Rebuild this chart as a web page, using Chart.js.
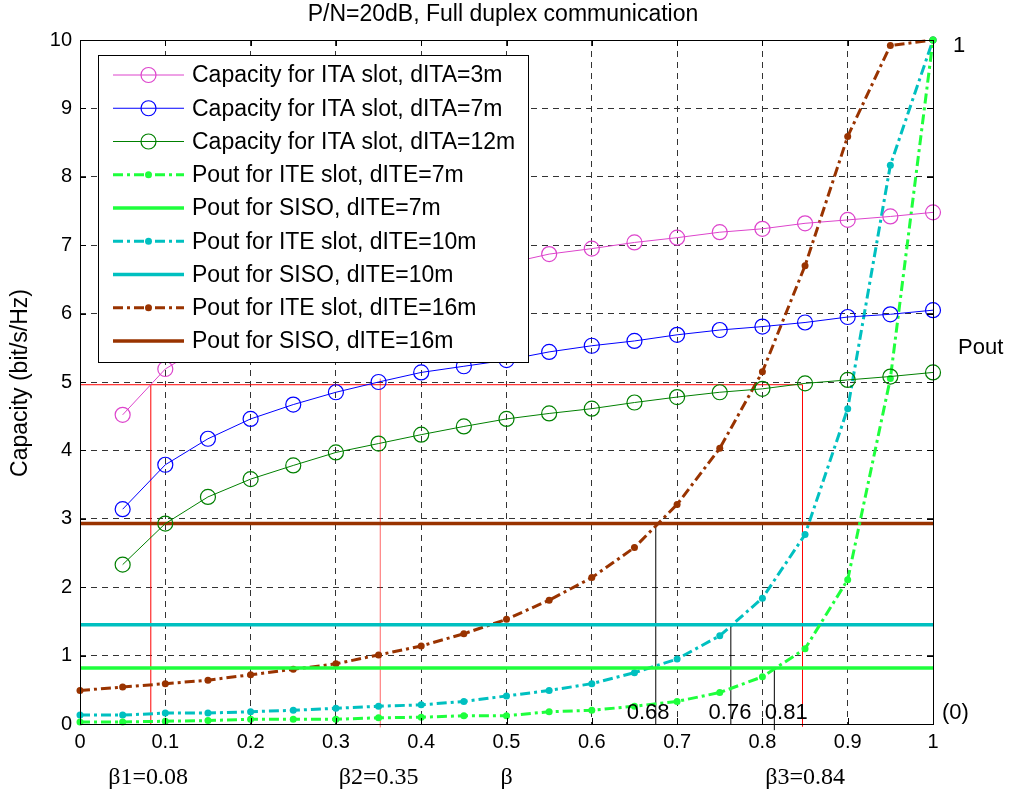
<!DOCTYPE html>
<html>
<head>
<meta charset="utf-8">
<script src="https://cdn.jsdelivr.net/npm/chart.js@4.4.0/dist/chart.umd.min.js"></script>
<style>
  html, body { margin: 0; padding: 0; background: #fff; }
</style>
</head>
<body>
<canvas id="chart" width="1009" height="798"></canvas>
<script>
// beta values
const betaCap = [0.05, 0.1, 0.15, 0.2, 0.25, 0.3, 0.35, 0.4, 0.45, 0.5,
                 0.55, 0.6, 0.65, 0.7, 0.75, 0.8, 0.85, 0.9, 0.95, 1.0];
const betaPout = [0, 0.05, 0.1, 0.15, 0.2, 0.25, 0.3, 0.35, 0.4, 0.45, 0.5,
                  0.55, 0.6, 0.65, 0.7, 0.75, 0.8, 0.85, 0.9, 0.95, 1.0];

// capacity (bit/s/Hz)
const capITA3  = [4.52, 5.19, 5.57, 5.86, 6.07, 6.25, 6.41, 6.54, 6.63, 6.73,
                  6.87, 6.95, 7.04, 7.11, 7.19, 7.24, 7.32, 7.37, 7.42, 7.48];
const capITA7  = [3.14, 3.79, 4.17, 4.46, 4.67, 4.85, 5.00, 5.14, 5.23, 5.32,
                  5.44, 5.53, 5.60, 5.69, 5.76, 5.81, 5.87, 5.95, 5.99, 6.05];
const capITA12 = [2.33, 2.93, 3.32, 3.58, 3.78, 3.97, 4.10, 4.23, 4.35, 4.46,
                  4.54, 4.61, 4.70, 4.78, 4.85, 4.90, 4.98, 5.03, 5.08, 5.14];

// outage probability (scaled, 10 = 1)
const poutITE7  = [0.03, 0.03, 0.04, 0.05, 0.07, 0.07, 0.07, 0.09, 0.10, 0.12, 0.12,
                   0.18, 0.20, 0.26, 0.33, 0.46, 0.69, 1.10, 2.11, 5.05, 10.0];
const poutITE10 = [0.13, 0.13, 0.16, 0.16, 0.18, 0.20, 0.23, 0.26, 0.28, 0.33, 0.41,
                   0.49, 0.59, 0.75, 0.95, 1.29, 1.84, 2.77, 4.61, 8.17, 10.0];
const poutITE16 = [0.49, 0.54, 0.59, 0.64, 0.72, 0.80, 0.88, 1.01, 1.14, 1.32, 1.53,
                   1.81, 2.14, 2.58, 3.21, 4.03, 5.15, 6.70, 8.59, 9.92, 10.0];
const poutSISO7 = 0.82;
const poutSISO10 = 1.45;
const poutSISO16 = 2.93;

// marked points
const betaMarks = [0.083, 0.352, 0.847];
const capMark = 4.96;
const betaCross = [0.675, 0.763, 0.814];

const xTicks = [0, 0.1, 0.2, 0.3, 0.4, 0.5, 0.6, 0.7, 0.8, 0.9, 1];
const yTicks = [0, 1, 2, 3, 4, 5, 6, 7, 8, 9, 10];

const SANS = "'Liberation Sans', Arial, sans-serif";
const SERIF = "'Liberation Serif', 'Times New Roman', serif";

function pts(xs, ys) {
    return xs.map((b, i) => ({ x: b, y: ys[i] }));
}
function flat(v) {
    return [{ x: 0, y: v }, { x: 1, y: v }];
}

function capSet(label, color, ys) {
    return {
        label: label, data: pts(betaCap, ys),
        borderColor: color, borderWidth: 1,
        pointRadius: 7.5, pointBorderColor: color, pointBorderWidth: 1.2,
        pointBackgroundColor: 'rgba(0,0,0,0)', clip: false
    };
}
function iteSet(label, color, ys) {
    return {
        label: label, data: pts(betaPout, ys),
        borderColor: color, borderWidth: 3, borderDash: [10, 4, 3, 4],
        pointRadius: 3.5, pointBorderWidth: 0, pointBackgroundColor: color,
        pointBorderColor: color, clip: false
    };
}
function sisoSet(label, color, v) {
    return {
        label: label, data: flat(v),
        borderColor: color, borderWidth: 3.5, pointRadius: 0
    };
}
function guide(color, data) {
    return { data: data, borderColor: color, borderWidth: 1, pointRadius: 0, clip: false };
}

const datasets = [
    capSet('Capacity for ITA slot, dITA=3m', '#dd44cc', capITA3),
    capSet('Capacity for ITA slot, dITA=7m', '#0000ff', capITA7),
    capSet('Capacity for ITA slot, dITA=12m', '#008000', capITA12),
    iteSet('Pout for ITE slot, dITE=7m', '#1eff3c', poutITE7),
    sisoSet('Pout for SISO, dITE=7m', '#1eff3c', poutSISO7),
    iteSet('Pout for ITE slot, dITE=10m', '#00c0c0', poutITE10),
    sisoSet('Pout for SISO, dITE=10m', '#00c0c0', poutSISO10),
    iteSet('Pout for ITE slot, dITE=16m', '#993300', poutITE16),
    sisoSet('Pout for SISO, dITE=16m', '#993300', poutSISO16),
    guide('#ff0000', [{ x: 0, y: capMark }, { x: betaMarks[2], y: capMark }]),
    guide('#ff0000', [{ x: betaMarks[0], y: 0 }, { x: betaMarks[0], y: capMark }]),
    guide('rgba(255,0,0,0.6)', [{ x: betaMarks[1], y: -0.05 }, { x: betaMarks[1], y: 5.05 }]),
    guide('#ff0000', [{ x: betaMarks[2], y: -0.04 }, { x: betaMarks[2], y: capMark }]),
    guide('#000000', [{ x: betaCross[0], y: 0 }, { x: betaCross[0], y: poutSISO16 }]),
    guide('#000000', [{ x: betaCross[1], y: 0 }, { x: betaCross[1], y: poutSISO10 }]),
    guide('#000000', [{ x: betaCross[2], y: -0.09 }, { x: betaCross[2], y: poutSISO7 }])
];

const decor = {
    id: 'decor',
    afterDraw(chart) {
        const ctx = chart.ctx;
        const a = chart.chartArea;
        const x = chart.scales.x, y = chart.scales.y;
        ctx.save();

        // box and inward ticks
        ctx.strokeStyle = '#000';
        ctx.lineWidth = 1;
        ctx.strokeRect(Math.round(a.left) + 0.5, Math.round(a.top) + 0.5,
                       Math.round(a.right - a.left), Math.round(a.bottom - a.top));
        ctx.beginPath();
        xTicks.forEach(v => {
            const px = Math.round(x.getPixelForValue(v)) + 0.5;
            ctx.moveTo(px, a.bottom); ctx.lineTo(px, a.bottom - 6);
            ctx.moveTo(px, a.top); ctx.lineTo(px, a.top + 6);
        });
        yTicks.forEach(v => {
            const py = Math.round(y.getPixelForValue(v)) + 0.5;
            ctx.moveTo(a.left, py); ctx.lineTo(a.left + 6, py);
            ctx.moveTo(a.right, py); ctx.lineTo(a.right - 6, py);
        });
        ctx.stroke();

        // legend
        const lx = 98, ly = 55, lw = 430, lh = 307;
        ctx.fillStyle = '#fff';
        ctx.fillRect(lx, ly, lw, lh);
        ctx.strokeStyle = '#000';
        ctx.strokeRect(lx + 0.5, ly + 0.5, lw, lh);
        ctx.font = '23px ' + SANS;
        ctx.textBaseline = 'middle';
        ctx.textAlign = 'left';
        chart.data.datasets.filter(d => d.label).forEach((d, i) => {
            const ry = 75 + i * 33.25;
            ctx.setLineDash(d.borderDash || []);
            ctx.strokeStyle = d.borderColor;
            ctx.lineWidth = d.borderWidth;
            ctx.beginPath();
            ctx.moveTo(113, ry); ctx.lineTo(184, ry);
            ctx.stroke();
            ctx.setLineDash([]);
            if (d.pointRadius > 0) {
                ctx.beginPath();
                ctx.arc(148.5, ry, d.pointRadius, 0, Math.PI * 2);
                if (d.pointBorderWidth > 0) {
                    ctx.lineWidth = d.pointBorderWidth;
                    ctx.strokeStyle = d.pointBorderColor;
                    ctx.stroke();
                } else {
                    ctx.fillStyle = d.pointBackgroundColor;
                    ctx.fill();
                }
            }
            ctx.fillStyle = '#000';
            ctx.fillText(d.label, 192, ry + 1);
        });

        // title and axis label
        ctx.fillStyle = '#000';
        ctx.textAlign = 'center';
        ctx.font = '23px ' + SANS;
        ctx.fillText('P/N=20dB, Full duplex communication', 503, 15);
        ctx.save();
        ctx.translate(21, 383);
        ctx.rotate(-Math.PI / 2);
        ctx.font = '23px ' + SANS;
        ctx.fillText('Capacity (bit/s/Hz)', 0, 0);
        ctx.restore();

        // right side labels
        ctx.textAlign = 'left';
        ctx.font = '22px ' + SANS;
        ctx.fillText('1', a.right + 20, y.getPixelForValue(9.92));
        ctx.fillText('Pout', a.right + 25, y.getPixelForValue(5.5));
        ctx.fillText('(0)', a.right + 9, y.getPixelForValue(0.16));

        // crossing values
        ctx.textAlign = 'center';
        const yv = y.getPixelForValue(0.16);
        ctx.fillText('0.68', x.getPixelForValue(0.666), yv);
        ctx.fillText('0.76', x.getPixelForValue(0.762), yv);
        ctx.fillText('0.81', x.getPixelForValue(0.828), yv);

        // beta labels under the axis
        ctx.font = '24px ' + SERIF;
        const yb = a.bottom + 54;
        ctx.fillText('\u03b21=0.08', x.getPixelForValue(0.08), yb);
        ctx.fillText('\u03b22=0.35', x.getPixelForValue(0.35), yb);
        ctx.fillText('\u03b2', x.getPixelForValue(0.5), yb);
        ctx.fillText('\u03b23=0.84', x.getPixelForValue(0.85), yb);

        ctx.restore();
    }
};

new Chart(document.getElementById('chart').getContext('2d'), {
    type: 'line',
    data: { datasets: datasets },
    options: {
        responsive: false,
        animation: false,
        layout: { padding: { left: 0, top: 40, right: 76, bottom: 44 } },
        plugins: {
            legend: { display: false },
            tooltip: { enabled: false },
            title: { display: false }
        },
        scales: {
            x: {
                type: 'linear', min: 0, max: 1,
                afterFit: s => { s.height = 30; },
                afterBuildTicks: s => { s.ticks = xTicks.map(v => ({ value: v })); },
                ticks: {
                    font: { family: SANS, size: 20 }, color: '#000', padding: 6,
                    maxRotation: 0, autoSkip: false, callback: v => String(v)
                },
                grid: { color: '#333333', lineWidth: 1, drawTicks: false },
                border: { display: false, dash: [6, 5] }
            },
            y: {
                type: 'linear', min: 0, max: 10,
                afterFit: s => { s.width = 80; },
                afterBuildTicks: s => { s.ticks = yTicks.map(v => ({ value: v })); },
                ticks: {
                    font: { family: SANS, size: 20 }, color: '#000', padding: 8,
                    autoSkip: false, callback: v => String(v)
                },
                grid: { color: '#333333', lineWidth: 1, drawTicks: false },
                border: { display: false, dash: [6, 5] }
            }
        }
    },
    plugins: [decor]
});
</script>
</body>
</html>
